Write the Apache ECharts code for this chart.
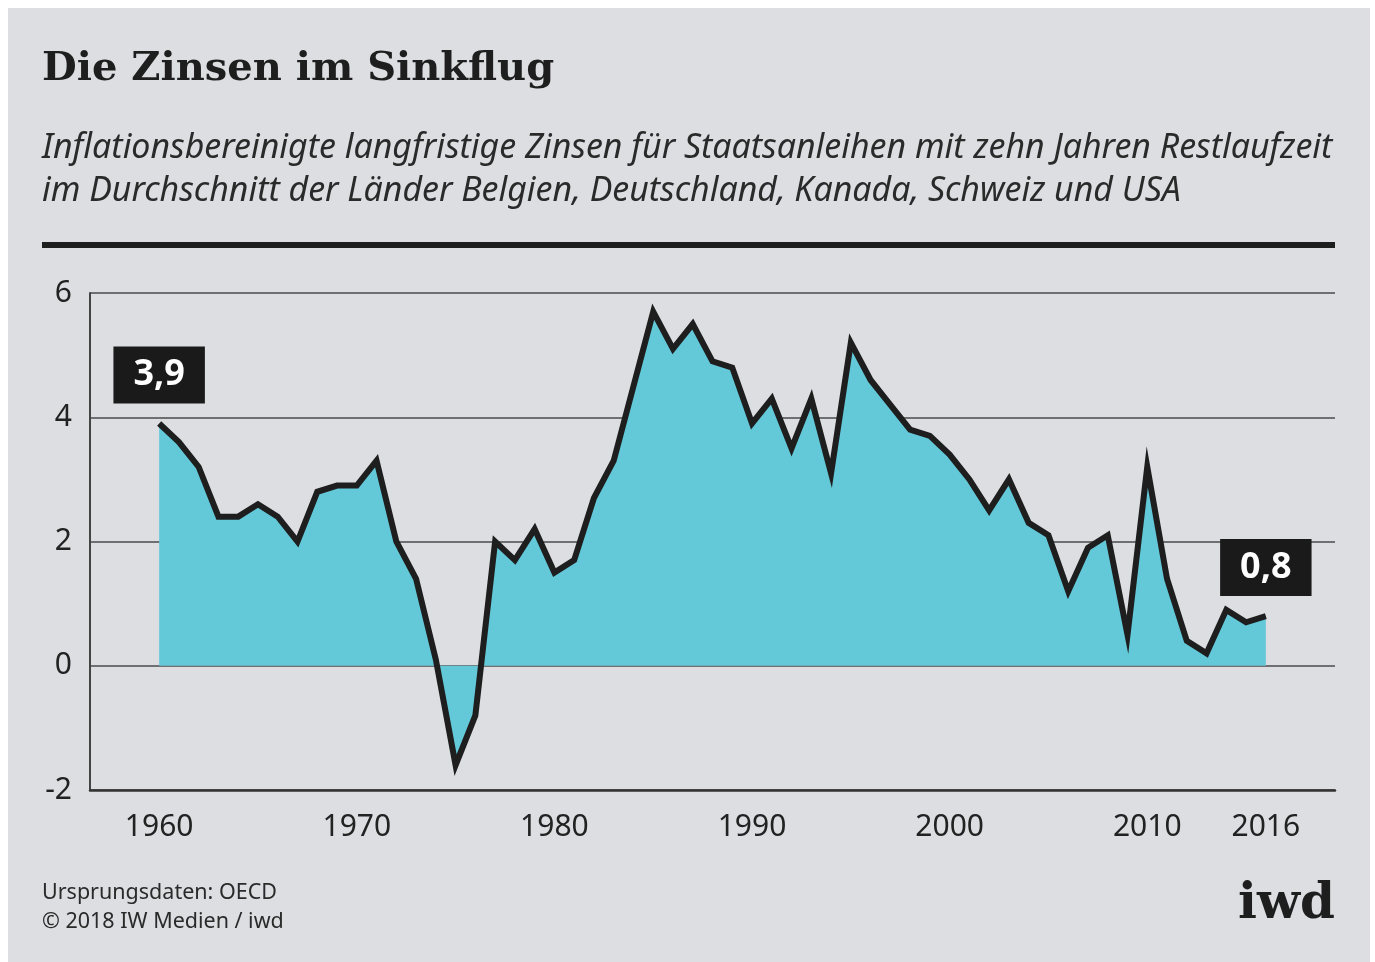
<!DOCTYPE html>
<html>
<head>
<meta charset="utf-8">
<script src="https://cdn.jsdelivr.net/npm/echarts@6/dist/echarts.min.js"></script>
<style>
  html, body { margin: 0; padding: 0; background: #ffffff; }
  #panel { position: absolute; left: 8px; top: 8px; width: 1362px; height: 954px; background: #dcdee2; }
  #main { position: absolute; left: 0; top: 0; width: 1375px; height: 962px; }
</style>
</head>
<body>
<div id="panel"></div>
<div id="main"></div>
<script>
var chartDom = document.getElementById("main");
var myChart = echarts.init(chartDom);
var option;

// Jahre und Zinswerte (in Prozent)
const years = [
  1960, 1961, 1962, 1963, 1964, 1965, 1966, 1967, 1968, 1969,
  1970, 1971, 1972, 1973, 1974, 1975, 1976, 1977, 1978, 1979,
  1980, 1981, 1982, 1983, 1984, 1985, 1986, 1987, 1988, 1989,
  1990, 1991, 1992, 1993, 1994, 1995, 1996, 1997, 1998, 1999,
  2000, 2001, 2002, 2003, 2004, 2005, 2006, 2007, 2008, 2009,
  2010, 2011, 2012, 2013, 2014, 2015, 2016
];
const rates = [
  3.9, 3.6, 3.2, 2.4, 2.4, 2.6, 2.4, 2.0, 2.8, 2.9,
  2.9, 3.3, 2.0, 1.4, 0.1, -1.6, -0.8, 2.0, 1.7, 2.2,
  1.5, 1.7, 2.7, 3.3, 4.5, 5.7, 5.1, 5.5, 4.9, 4.8,
  3.9, 4.3, 3.5, 4.3, 3.1, 5.2, 4.6, 4.2, 3.8, 3.7,
  3.4, 3.0, 2.5, 3.0, 2.3, 2.1, 1.2, 1.9, 2.1, 0.5,
  3.2, 1.4, 0.4, 0.2, 0.9, 0.7, 0.8
];
const xTicks = [1960, 1970, 1980, 1990, 2000, 2010, 2016];
const yTicks = [-2, 0, 2, 4, 6];

const seriesData = years.map(function (y, i) {
  var item = { value: [y, rates[i]] };
  if (i === 0 || i === years.length - 1) {
    item.label = { show: true };
  }
  return item;
});

option = {
  animation: false,
  title: [
    {
      text: "Die Zinsen im Sinkflug",
      left: 42,
      top: 50,
      padding: 0,
      textStyle: {
        fontFamily: "DejaVu Serif",
        fontWeight: "bold",
        fontSize: 40,
        color: "#1e1e1e"
      }
    },
    {
      text: "Inflationsbereinigte langfristige Zinsen für Staatsanleihen mit zehn Jahren Restlaufzeit\nim Durchschnitt der Länder Belgien, Deutschland, Kanada, Schweiz und USA",
      left: 42,
      top: 127,
      padding: 0,
      textStyle: {
        fontFamily: "Noto Sans",
        fontStyle: "italic",
        fontWeight: "normal",
        fontSize: 33.9,
        lineHeight: 43,
        color: "#2a2a2a"
      }
    },
    {
      text: "Ursprungsdaten: OECD\n© 2018 IW Medien / iwd",
      left: 42,
      top: 878,
      padding: 0,
      textStyle: {
        fontFamily: "Noto Sans",
        fontWeight: "normal",
        fontSize: 21.5,
        lineHeight: 29,
        color: "#2a2a2a"
      }
    }
  ],
  graphic: [
    {
      type: "rect",
      shape: { x: 42, y: 242, width: 1293, height: 6 },
      style: { fill: "#1e1e1e" }
    },
    {
      type: "text",
      right: 40,
      top: 880,
      style: {
        text: "iwd",
        fontFamily: "DejaVu Serif",
        fontWeight: "bold",
        fontSize: 50,
        fill: "#1e1e1e"
      }
    }
  ],
  grid: {
    left: 90,
    right: 40,
    top: 293,
    bottom: 172
  },
  xAxis: {
    type: "value",
    min: 1956.5,
    max: 2019.5,
    axisLine: {
      onZero: false,
      lineStyle: { color: "#333", width: 2.5 }
    },
    axisTick: { show: false },
    splitLine: { show: false },
    axisLabel: {
      customValues: xTicks,
      formatter: function (v) { return String(v); },
      margin: 22,
      fontFamily: "Noto Sans",
      fontSize: 30,
      color: "#222"
    }
  },
  yAxis: {
    type: "value",
    min: -2,
    max: 6,
    interval: 2,
    axisLine: {
      show: true,
      lineStyle: { color: "#444", width: 2 }
    },
    axisTick: { show: false },
    splitLine: {
      lineStyle: { color: "#4a4a4a", width: 1.5 }
    },
    axisLabel: {
      customValues: yTicks,
      margin: 18,
      fontFamily: "Noto Sans",
      fontSize: 30,
      color: "#222"
    }
  },
  series: [
    {
      type: "line",
      data: seriesData,
      showSymbol: true,
      symbol: "circle",
      symbolSize: 0.1,
      itemStyle: { color: "#1e1e1e" },
      lineStyle: { color: "#1e1e1e", width: 6, join: "miter" },
      areaStyle: { color: "#63c8d8", opacity: 1 },
      label: {
        show: false,
        position: "top",
        distance: 20,
        formatter: function (p) {
          return p.value[1].toFixed(1).replace(".", ",");
        },
        backgroundColor: "#1a1a1a",
        color: "#ffffff",
        fontFamily: "Noto Sans",
        fontWeight: "bold",
        fontSize: 36,
        lineHeight: 37,
        padding: [10, 20]
      },
      z: 3
    }
  ]
};

option && myChart.setOption(option);
</script>
</body>
</html>
